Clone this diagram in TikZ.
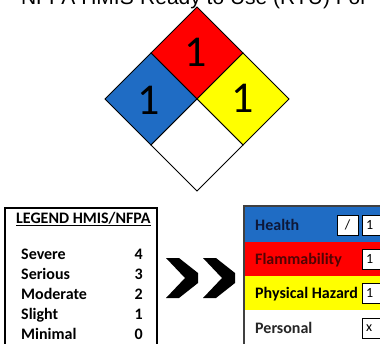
\documentclass[tikz,border=0pt]{standalone}
\usepackage{fontspec}
\setmainfont{Carlito}
\newfontfamily\titlefont{Liberation Sans}
\usetikzlibrary{calc}
\usepackage{xcolor}
\definecolor{hblue}{HTML}{1F6CC4}
\definecolor{hred}{HTML}{FF0000}
\definecolor{hyellow}{HTML}{FFFF00}
\definecolor{fdark}{HTML}{500404}
\definecolor{hdark}{HTML}{0E1838}

\begin{document}
\begin{tikzpicture}[x=1pt, y=-1pt]
        \tikzstyle{cell}=[draw=black, line width=0.8pt]
        \tikzstyle{num}=[font=\fontsize{44}{44}\selectfont, inner sep=0pt]
        \tikzstyle{leg}=[font=\fontsize{16}{16}\selectfont\bfseries, anchor=base west, inner sep=0pt]
        \tikzstyle{tag}=[draw=black, line width=0.9pt, fill=white]
        \tikzstyle{tagtext}=[font=\fontsize{14}{14}\selectfont, inner sep=0pt]

        \clip (0,0) rectangle (380,343);
        \fill[white] (0,0) rectangle (380,343);

        % titre coupe en haut
        \node[anchor=base east, inner sep=0pt, font=\titlefont\fontsize{21}{21}\selectfont] (titlea) at (134,4) {NFPA HMIS};
        \node[anchor=base west, inner sep=0pt, font=\titlefont\fontsize{21}{21}\selectfont] (titleb) at (140,4) {Ready to Use (RTU) For};

        % losange NFPA (4 cases)
        \foreach \cx/\cy/\col in {197/53/hred, 151/99/hblue, 243/99/hyellow, 197/145/white} {
            \filldraw[cell, fill=\col] (\cx,\cy-46) -- (\cx+46,\cy) -- (\cx,\cy+46) -- (\cx-46,\cy) -- cycle;
        }
        \node[num] (nfire) at (196,52) {1};
        \node[num] (nhealth) at (149,100) {1};
        \node[num] (nreact) at (243,98) {1};

        % legende
        \draw[line width=1.2pt] (5,208) rectangle (157,360);
        \node[leg, font=\fontsize{16}{16}\selectfont\bfseries] (legtitle) at (16,223) {\underline{LEGEND HMIS/NFPA}};
        \foreach \lbl/\val [count=\i] in {Severe/4, Serious/3, Moderate/2, Slight/1, Minimal/0} {
            \node[leg] (lvl\i) at (21,239+20*\i) {\lbl};
            \node[leg, anchor=base east] (val\i) at (143,239+20*\i) {\val};
        }

        % fleches >>
        \foreach \dx in {0,37} {
            \fill[black] (166+\dx,258) -- (179+\dx,258) -- (198+\dx,273) -- (198+\dx,283)
                -- (179+\dx,298) -- (166+\dx,298) -- (185+\dx,278) -- cycle;
        }

        % etiquette HMIS
        \foreach \y/\col in {207/hblue, 242/hred, 276/hyellow, 310/white} {
            \fill[\col] (244,\y) rectangle (382,\y+36);
        }
        \draw[line width=1.2pt, black!75] (244,206) rectangle (392,360);
        \node[leg, text=hdark] (health) at (255,230) {Health};
        \node[leg, text=fdark] (flam) at (255,264) {Flammability};
        \node[leg] (phys) at (255,298) {Physical Hazard};
        \node[leg, text=black!85] (pers) at (255,333) {Personal};

        % cases blanches
        \draw[tag] (337,215) rectangle (358,235);
        \node[tagtext] (slash) at (347.5,225) {/};
        \foreach \ya/\txt [count=\i] in {215/1, 249/1, 283/1, 318/x} {
            \draw[tag] (362,\ya) rectangle (395,\ya+20);
            \node[tagtext, anchor=west] (box\i) at (366,\ya+10) {\txt};
        }
\end{tikzpicture}
\end{document}
